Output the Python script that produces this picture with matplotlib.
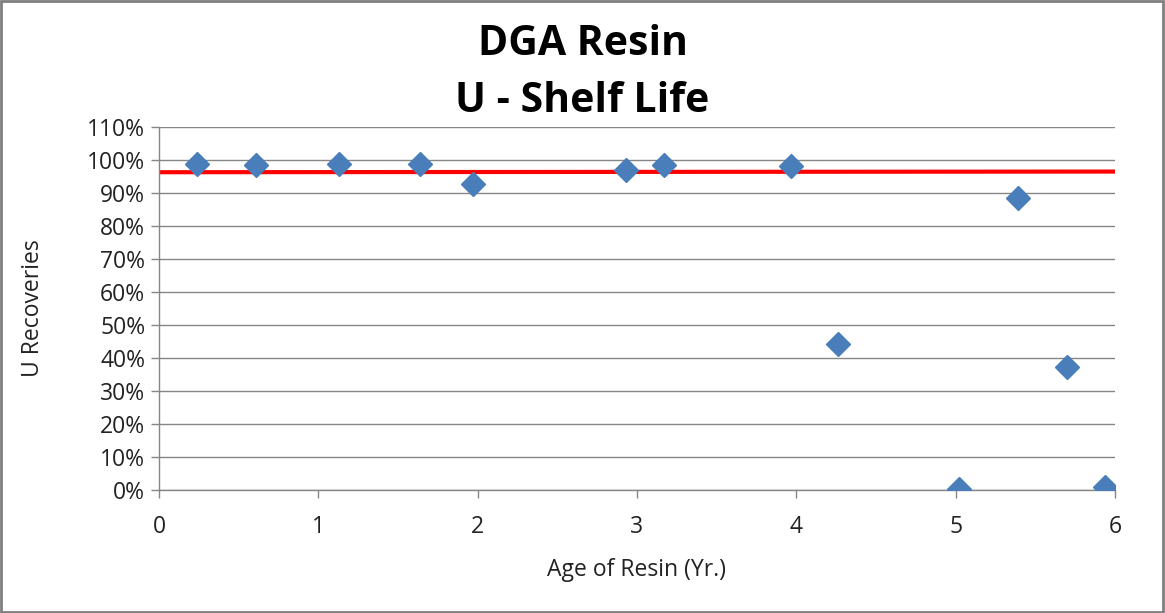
import numpy as np
import matplotlib
matplotlib.use('Agg')
import matplotlib.pyplot as plt
from matplotlib.ticker import PercentFormatter
from matplotlib.patches import Rectangle

plt.rcParams['font.family'] = ['Open Sans', 'DejaVu Sans']

# resin age (yr) and U recovery (%)
age = [0.24, 0.61, 1.13, 1.64, 1.97, 2.93, 3.17, 3.97, 4.26, 5.02, 5.39, 5.70, 5.94]
recovery = [98.7, 98.5, 98.7, 98.7, 92.7, 97.0, 98.4, 98.3, 44.2, 0.2, 88.5, 37.3, 0.8]

# red reference line
ref_x = [0, 6]
ref_y = [96.3, 96.5]

xticks = [0, 1, 2, 3, 4, 5, 6]
yticks = list(range(0, 111, 10))

fig = plt.figure(figsize=(11.65, 6.13), dpi=100)
ax = fig.add_axes([0.1365, 0.2007, 0.8205, 0.5921])

grid_col = '#868686'
for t in yticks:
    ax.axhline(t, color=grid_col, lw=1.0, zorder=1)

ax.plot(ref_x, ref_y, color='#FF0000', lw=3, zorder=2)
ax.plot(age, recovery, linestyle='none', marker='D', ms=12,
        color='#4A7EBB', markeredgecolor='#4A7EBB', zorder=3)

ax.set_xlim(0, 6)
ax.set_ylim(0, 110)
ax.set_xticks(xticks)
ax.set_yticks(yticks)
ax.yaxis.set_major_formatter(PercentFormatter(decimals=0))

for s in ['top', 'right']:
    ax.spines[s].set_visible(False)
for s in ['left', 'bottom']:
    ax.spines[s].set_color(grid_col)
    ax.spines[s].set_linewidth(1.0)

ax.tick_params(axis='both', direction='out', length=6, width=1, color=grid_col,
               labelsize=16.5, labelcolor='#222222')
ax.tick_params(axis='x', pad=12)
ax.tick_params(axis='y', pad=4)

ax.set_xlabel('Age of Resin (Yr.)', fontsize=16.5, color='#222222', labelpad=14)
ax.set_ylabel('U Recoveries', fontsize=16.5, color='#222222', labelpad=30)

fig.text(0.5, 0.927, 'DGA Resin', ha='center', va='center',
         fontsize=29.5, fontweight='bold', color='black')
fig.text(0.5, 0.834, 'U - Shelf Life', ha='center', va='center',
         fontsize=29.5, fontweight='bold', color='black')

# outer chart border
fig.patches.append(Rectangle((0.001, 0.001), 0.997, 0.997, transform=fig.transFigure,
                             fill=False, edgecolor='#7f7f7f', lw=2))

fig.savefig('out.png', dpi=100)
